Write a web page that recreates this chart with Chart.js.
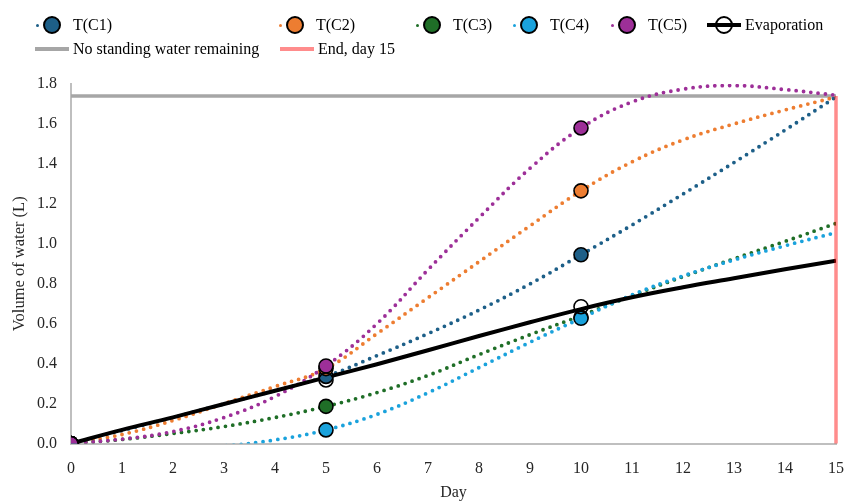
<!DOCTYPE html>
<html>
<head>
<meta charset="utf-8">
<title>Volume of water</title>
<script src="https://cdn.jsdelivr.net/npm/chart.js@4.4.1/dist/chart.umd.min.js"></script>
<style>
    html, body { margin: 0; padding: 0; background: #fff; }
    .wrap { position: relative; width: 849px; height: 502px; font-family: "Liberation Serif", "Times New Roman", serif; }
    #volChart { position: absolute; left: 0; top: 0; }
    .legend { position: absolute; left: 0; top: 0; width: 849px; height: 62px; }
    .item { position: absolute; height: 20px; display: flex; align-items: center; white-space: nowrap; font-size: 16px; color: #000; }
    .sym { position: relative; display: inline-block; width: 34px; height: 20px; margin-right: 4px; }
    .sym i { position: absolute; display: block; }
    .dot { left: 1px; top: 8.5px; width: 3px; height: 3px; border-radius: 50%; }
    .mk { left: 8px; top: 1px; width: 18px; height: 18px; box-sizing: border-box; border: 2px solid #000; border-radius: 50%; }
    .ln { left: 0; top: 8px; width: 34px; height: 4px; }
</style>
</head>
<body>
<div class="wrap">
    <canvas id="volChart" width="849" height="502"></canvas>
    <div class="legend" id="legend"></div>
</div>
<script>
// data srt
const trendDays = [0, 1, 2, 3, 4, 5, 6, 7, 8, 9, 10, 11, 12, 13, 14, 15];
const sampleDays = [0, 5, 10];

// measured points (markers)
const c1Points = [0, 0.336, 0.945];
const c2Points = [0, 0.375, 1.265];
const c3Points = [0, 0.186, 0.632];
const c4Points = [0, 0.068, 0.627];
const c5Points = [0, 0.388, 1.58];
const evapPoints = [0, 0.318, 0.685];

// smoothed curves, read at each day
const c1Trend = [0, 0.065, 0.13, 0.198, 0.265, 0.336, 0.44, 0.55, 0.668, 0.799, 0.945, 1.094, 1.249, 1.407, 1.569, 1.735];
const c2Trend = [0, 0.045, 0.115, 0.2, 0.285, 0.375, 0.55, 0.73, 0.91, 1.09, 1.265, 1.41, 1.52, 1.6, 1.67, 1.735];
const c3Trend = [0, 0.02, 0.05, 0.085, 0.13, 0.186, 0.255, 0.341, 0.445, 0.545, 0.64, 0.74, 0.835, 0.925, 1.012, 1.102];
const c4Trend = [-0.03, -0.03, -0.025, -0.012, 0.018, 0.068, 0.146, 0.254, 0.38, 0.507, 0.627, 0.744, 0.839, 0.919, 0.99, 1.056];
const c5Trend = [0, 0.022, 0.06, 0.13, 0.235, 0.388, 0.6, 0.87, 1.13, 1.378, 1.58, 1.71, 1.774, 1.792, 1.772, 1.744];
const evapTrend = [0, 0.068, 0.131, 0.198, 0.264, 0.331, 0.397, 0.467, 0.538, 0.607, 0.673, 0.732, 0.782, 0.827, 0.872, 0.915];

// reference lines
const standingWater = 1.74;
const endDay = 15;
// data end

const seriesNames = ['T(C1)', 'T(C2)', 'T(C3)', 'T(C4)', 'T(C5)'];
const seriesColors = ['#1d5f88', '#ed7d31', '#1f6e27', '#1aa2dc', '#9d2f98'];
const seriesPoints = [c1Points, c2Points, c3Points, c4Points, c5Points];
const seriesTrends = [c1Trend, c2Trend, c3Trend, c4Trend, c5Trend];

function xy(xs, ys) {
    return xs.map((x, i) => ({ x: x, y: ys[i] }));
}

const datasets = [];

// dotted smooth curves
seriesNames.forEach((name, i) => {
    datasets.push({
        label: name + ' curve',
        data: xy(trendDays, seriesTrends[i]),
        showLine: true,
        borderColor: seriesColors[i],
        borderWidth: 3.8,
        borderDash: [0, 7.4],
        borderCapStyle: 'round',
        pointRadius: 0,
        tension: 0.4,
        fill: false,
        order: 30 - i
    });
});

// markers
seriesNames.forEach((name, i) => {
    datasets.push({
        label: name,
        data: xy(sampleDays, seriesPoints[i]),
        showLine: false,
        pointRadius: 7,
        pointBorderWidth: 1.6,
        pointBorderColor: '#000',
        pointBackgroundColor: seriesColors[i],
        order: 10 - i
    });
});

datasets.push({
    label: 'Evaporation curve',
    data: xy(trendDays, evapTrend),
    showLine: true,
    borderColor: '#000',
    borderWidth: 4,
    pointRadius: 0,
    tension: 0.4,
    order: 15
});

datasets.push({
    label: 'Evaporation',
    data: xy(sampleDays, evapPoints),
    showLine: false,
    pointRadius: 7,
    pointBorderWidth: 1.6,
    pointBorderColor: '#000',
    pointBackgroundColor: 'rgba(255,255,255,0)',
    order: 2
});

datasets.push({
    label: 'No standing water remaining',
    data: xy([0, endDay], [standingWater, standingWater]),
    showLine: true,
    borderColor: '#a6a6a6',
    borderWidth: 3.5,
    pointRadius: 0,
    clip: false,
    order: 40
});

datasets.push({
    label: 'End, day 15',
    data: xy([endDay, endDay], [0, standingWater]),
    showLine: true,
    borderColor: 'rgba(255, 0, 0, 0.45)',
    borderWidth: 3.5,
    pointRadius: 0,
    clip: false,
    order: 0
});

const serif = "'Liberation Serif', 'Times New Roman', serif";

const chart = new Chart(document.getElementById('volChart'), {
    type: 'scatter',
    data: { datasets: datasets },
    options: {
        responsive: false,
        animation: false,
        layout: { padding: { left: 0, right: 13, top: 84, bottom: 0 } },
        plugins: {
            legend: { display: false },
            tooltip: { enabled: false }
        },
        scales: {
            x: {
                type: 'linear',
                min: 0,
                max: 15,
                afterFit: function (scale) {
                    scale.height = 58.5;
                    scale.paddingLeft = 0;
                    scale.paddingRight = 0;
                },
                ticks: { stepSize: 1, color: '#262626', padding: 8, font: { family: serif, size: 16 } },
                grid: { display: false },
                border: { color: '#bfbfbf', width: 2 },
                title: { display: true, text: 'Day', color: '#262626', padding: { top: 0, bottom: 0 }, font: { family: serif, size: 16 } }
            },
            y: {
                type: 'linear',
                min: 0,
                max: 1.8,
                afterFit: function (scale) { scale.width = 71; },
                ticks: {
                    stepSize: 0.2,
                    color: '#262626',
                    padding: 6,
                    font: { family: serif, size: 16 },
                    callback: function (v) { return v.toFixed(1); }
                },
                grid: { display: false },
                border: { color: '#bfbfbf', width: 2 },
                title: { display: true, text: 'Volume of water (L)', color: '#262626', padding: { top: 10, bottom: 0 }, font: { family: serif, size: 16.5 } }
            }
        }
    }
});

// html legend srt
const legendEl = document.getElementById('legend');
const legendItems = [];
seriesNames.forEach((name, i) => {
    legendItems.push({ text: name, kind: 'marker', color: seriesColors[i] });
});
legendItems.push({ text: 'Evaporation', kind: 'evap', color: '#000' });
legendItems.push({ text: 'No standing water remaining', kind: 'line', color: '#a6a6a6' });
legendItems.push({ text: 'End, day 15', kind: 'line', color: '#ff8c8c' });

const legendSlots = [[35, 15], [278, 15], [415, 15], [512, 15], [610, 15], [707, 15], [35, 39], [280, 39]];

legendItems.forEach((item, i) => {
    const el = document.createElement('div');
    el.className = 'item';
    el.style.left = legendSlots[i][0] + 'px';
    el.style.top = legendSlots[i][1] + 'px';
    let sym = '';
    if (item.kind === 'marker') {
        sym = '<i class="dot" style="background:' + item.color + '"></i>' +
              '<i class="mk" style="background:' + item.color + '"></i>';
    } else if (item.kind === 'evap') {
        sym = '<i class="ln" style="background:#000"></i>' +
              '<i class="mk" style="background:transparent"></i>';
    } else {
        sym = '<i class="ln" style="background:' + item.color + '"></i>';
    }
    el.innerHTML = '<span class="sym">' + sym + '</span><span>' + item.text + '</span>';
    legendEl.appendChild(el);
});
// html legend end
</script>
</body>
</html>
